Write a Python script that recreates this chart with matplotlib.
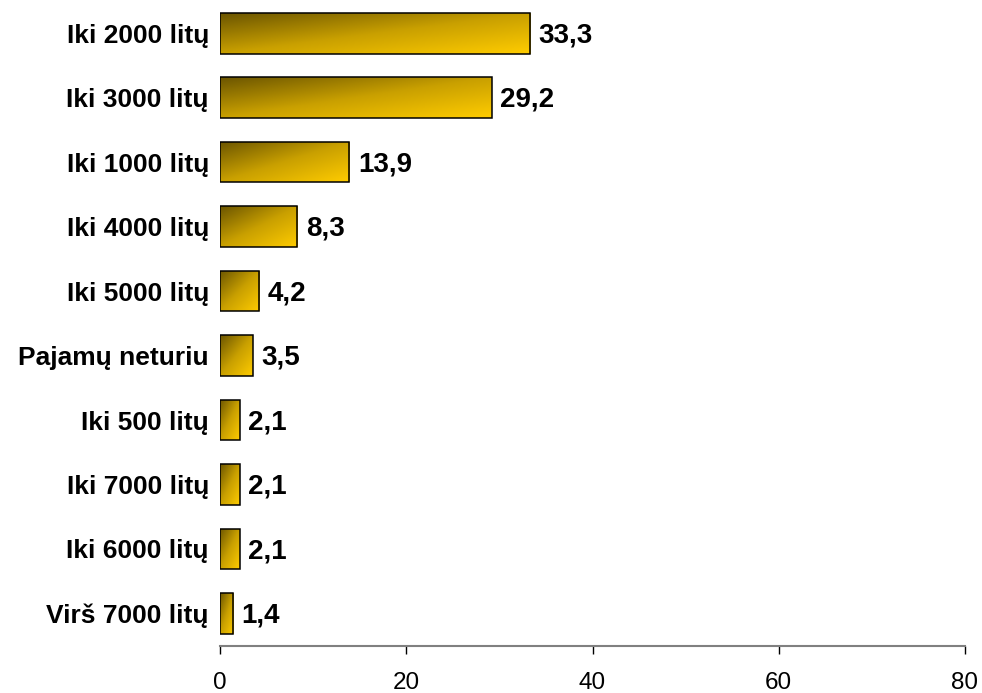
import numpy as np
import matplotlib
matplotlib.use("Agg")
import matplotlib.pyplot as plt
from matplotlib.colors import LinearSegmentedColormap

plt.rcParams['font.family'] = ['Liberation Sans', 'DejaVu Sans']

# categories listed top to bottom as in the chart
categories = ["Iki 2000 litų", "Iki 3000 litų", "Iki 1000 litų", "Iki 4000 litų",
              "Iki 5000 litų", "Pajamų neturiu", "Iki 500 litų", "Iki 7000 litų",
              "Iki 6000 litų", "Virš 7000 litų"]
values = [33.3, 29.2, 13.9, 8.3, 4.2, 3.5, 2.1, 2.1, 2.1, 1.4]
x_ticks = [0, 20, 40, 60, 80]

gold = LinearSegmentedColormap.from_list("gold", ["#6b5500", "#c9a000", "#ffcc00"])

fig = plt.figure(figsize=(9.82, 6.93), dpi=100)
ax = fig.add_axes([220 / 982, 47.3 / 693, 745 / 982, 644.7 / 693])

n = len(categories)
ypos = np.arange(n)[::-1]  # first category on top
bar_h = 0.63

bars = ax.barh(ypos, values, height=bar_h, facecolor="none",
               edgecolor="black", linewidth=1.1, zorder=3)

# diagonal gradient: dark top-left -> yellow bottom-right
gy, gx = np.mgrid[0:1:64j, 0:1:256j]
grad = (gx + gy) / 2
for rect in bars:
    x0, y0 = rect.get_x(), rect.get_y()
    w, h = rect.get_width(), rect.get_height()
    im = ax.imshow(grad, cmap=gold, extent=(x0, x0 + w, y0, y0 + h),
                   origin="upper", aspect="auto", zorder=2, interpolation="bilinear")
    im.set_clip_path(rect)

for y, v in zip(ypos, values):
    ax.annotate(f"{v:.1f}".replace(".", ","), (v, y), xytext=(6, -1.5),
                textcoords="offset points", va="center", ha="left",
                fontsize=20, fontweight="bold")

ax.set_xlim(0, 80)
ax.set_ylim(-0.5, n - 0.5)
ax.set_xticks(x_ticks)
ax.set_yticks(ypos)
ax.set_yticklabels(categories, fontsize=19, fontweight="bold")
ax.tick_params(axis="y", length=0, pad=8)
ax.tick_params(axis="x", length=6, width=1, color="black", labelsize=17.5, pad=13)

for side in ["top", "right", "left"]:
    ax.spines[side].set_visible(False)
ax.spines["bottom"].set_color("#808080")
ax.spines["bottom"].set_linewidth(1.5)

fig.savefig("out.png", dpi=100)
